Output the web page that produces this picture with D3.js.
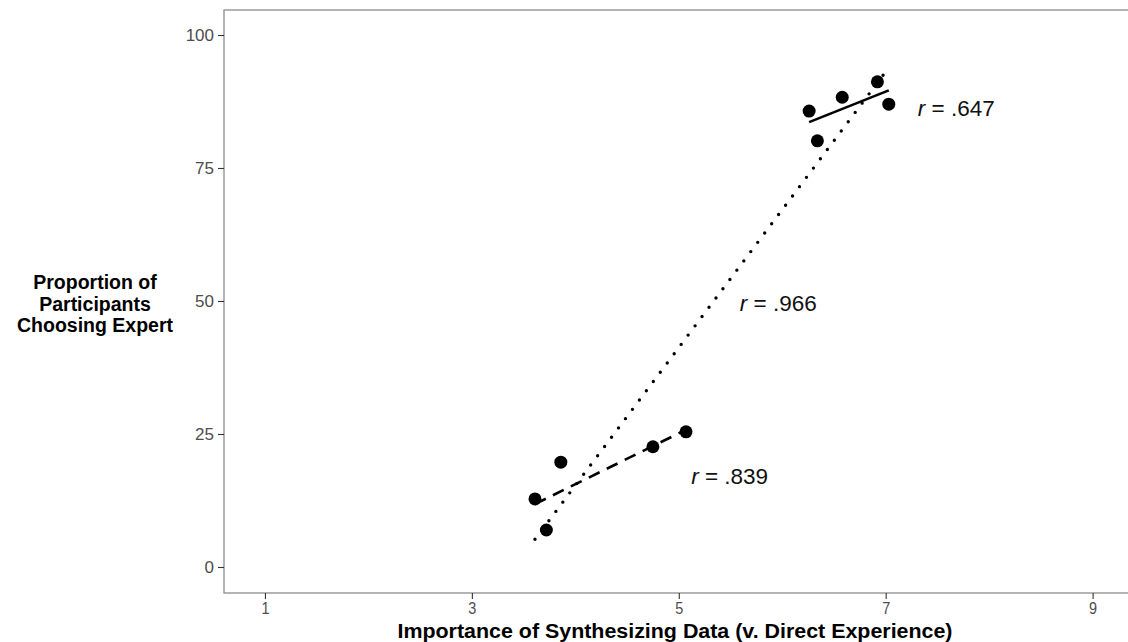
<!DOCTYPE html>
<html>
<head>
<meta charset="utf-8">
<script src="https://cdn.jsdelivr.net/npm/d3@7"></script>
<style>
  body { margin: 0; background: #fff; }
  text { font-family: "Liberation Sans", Arial, sans-serif; }
</style>
</head>
<body>
<svg class="chart"></svg>
<script>
let width = 1128;
let height = 642;

// Low group (dashed fit) and high group (solid fit)
let lowX = [3.61, 3.72, 3.86, 4.75, 5.07];
let lowY = [12.8, 6.95, 19.7, 22.6, 25.4];
let highX = [6.26, 6.34, 6.58, 6.92, 7.03];
let highY = [85.7, 80.1, 88.3, 91.2, 87.0];

let xTicks = [1, 3, 5, 7, 9];
let yTicks = [0, 25, 50, 75, 100];

let labels = ["r = .647", "r = .966", "r = .839"];
let labelX = [7.31, 5.59, 5.12];
let labelY = [86.3, 49.6, 17.1];

let margin = { top: 10, right: -7, bottom: 49, left: 224 };

let svg = d3.select(".chart")
  .attr("width", width)
  .attr("height", height);

let x = d3.scaleLinear()
  .domain([0.604, 9.41])
  .range([margin.left, width - margin.right]);

let y = d3.scaleLinear()
  .domain([-4.89, 104.7])
  .range([height - margin.bottom, margin.top]);

// panel border
svg.append("rect")
  .attr("x", margin.left)
  .attr("y", margin.top)
  .attr("width", width - margin.right - margin.left)
  .attr("height", height - margin.bottom - margin.top)
  .attr("fill", "none")
  .attr("stroke", "#8c8c8c")
  .attr("stroke-width", 1.3);

// axes
let xAxis = svg.append("g")
  .attr("transform", "translate(0," + (height - margin.bottom) + ")")
  .call(d3.axisBottom(x).tickValues(xTicks).tickSize(6).tickPadding(3));

let yAxis = svg.append("g")
  .attr("transform", "translate(" + margin.left + ",0)")
  .call(d3.axisLeft(y).tickValues(yTicks).tickSize(6).tickPadding(4));

[xAxis, yAxis].forEach(function(a) {
  a.select(".domain").remove();
  a.selectAll(".tick line").attr("stroke", "#333").attr("stroke-width", 1.1);
  a.selectAll(".tick text")
    .attr("fill", "#4d4d4d")
    .style("font-family", "'Liberation Sans', Arial, sans-serif")
    .style("font-size", "17px");
});
// x tick labels look narrow in the reference
xAxis.selectAll(".tick text")
  .attr("transform", "scale(0.85,1)");

// least-squares fit, drawn over the data range
function fit(xs, ys) {
  let mx = d3.mean(xs), my = d3.mean(ys);
  let sxy = d3.sum(xs, function(v, i) { return (v - mx) * (ys[i] - my); });
  let sxx = d3.sum(xs, function(v) { return (v - mx) * (v - mx); });
  let b = sxy / sxx, a = my - b * mx;
  let x0 = d3.min(xs), x1 = d3.max(xs);
  return [[x0, a + b * x0], [x1, a + b * x1]];
}

let line = d3.line()
  .x(function(d) { return x(d[0]); })
  .y(function(d) { return y(d[1]); });

let allX = lowX.concat(highX);
let allY = lowY.concat(highY);

svg.append("path")
  .attr("d", line(fit(allX, allY)))
  .attr("fill", "none")
  .attr("stroke", "#000")
  .attr("stroke-width", 3.4)
  .attr("stroke-linecap", "round")
  .attr("stroke-dasharray", "0 11.6");

svg.append("path")
  .attr("d", line(fit(lowX, lowY)))
  .attr("fill", "none")
  .attr("stroke", "#000")
  .attr("stroke-width", 2.6)
  .attr("stroke-dasharray", "12 8");

svg.append("path")
  .attr("d", line(fit(highX, highY)))
  .attr("fill", "none")
  .attr("stroke", "#000")
  .attr("stroke-width", 2.6);

// points
svg.append("g")
  .selectAll("circle")
  .data(d3.zip(allX, allY))
  .enter().append("circle")
  .attr("cx", function(d) { return x(d[0]); })
  .attr("cy", function(d) { return y(d[1]); })
  .attr("r", 6.5)
  .attr("fill", "#000");

// correlation labels
let lab = svg.append("g")
  .selectAll("text")
  .data(labels)
  .enter().append("text")
  .attr("x", function(d, i) { return x(labelX[i]); })
  .attr("y", function(d, i) { return y(labelY[i]); })
  .attr("dy", "0.35em")
  .attr("fill", "#111")
  .style("font-size", "22.5px");

lab.append("tspan")
  .style("font-style", "italic")
  .text("r");
lab.append("tspan")
  .text(function(d) { return d.slice(1); });

// axis titles
svg.append("text")
  .attr("x", (margin.left + width) / 2 - 1)
  .attr("y", 638)
  .attr("text-anchor", "middle")
  .attr("textLength", 555)
  .attr("lengthAdjust", "spacingAndGlyphs")
  .style("font-size", "20px")
  .style("font-weight", "bold")
  .text("Importance of Synthesizing Data (v. Direct Experience)");

let yTitle = ["Proportion of", "Participants", "Choosing Expert"];
svg.append("g")
  .selectAll("text")
  .data(yTitle)
  .enter().append("text")
  .attr("x", 95)
  .attr("y", function(d, i) { return 289 + i * 21.5; })
  .attr("text-anchor", "middle")
  .style("font-size", "19.5px")
  .style("font-weight", "bold")
  .text(function(d) { return d; });
</script>
</body>
</html>
